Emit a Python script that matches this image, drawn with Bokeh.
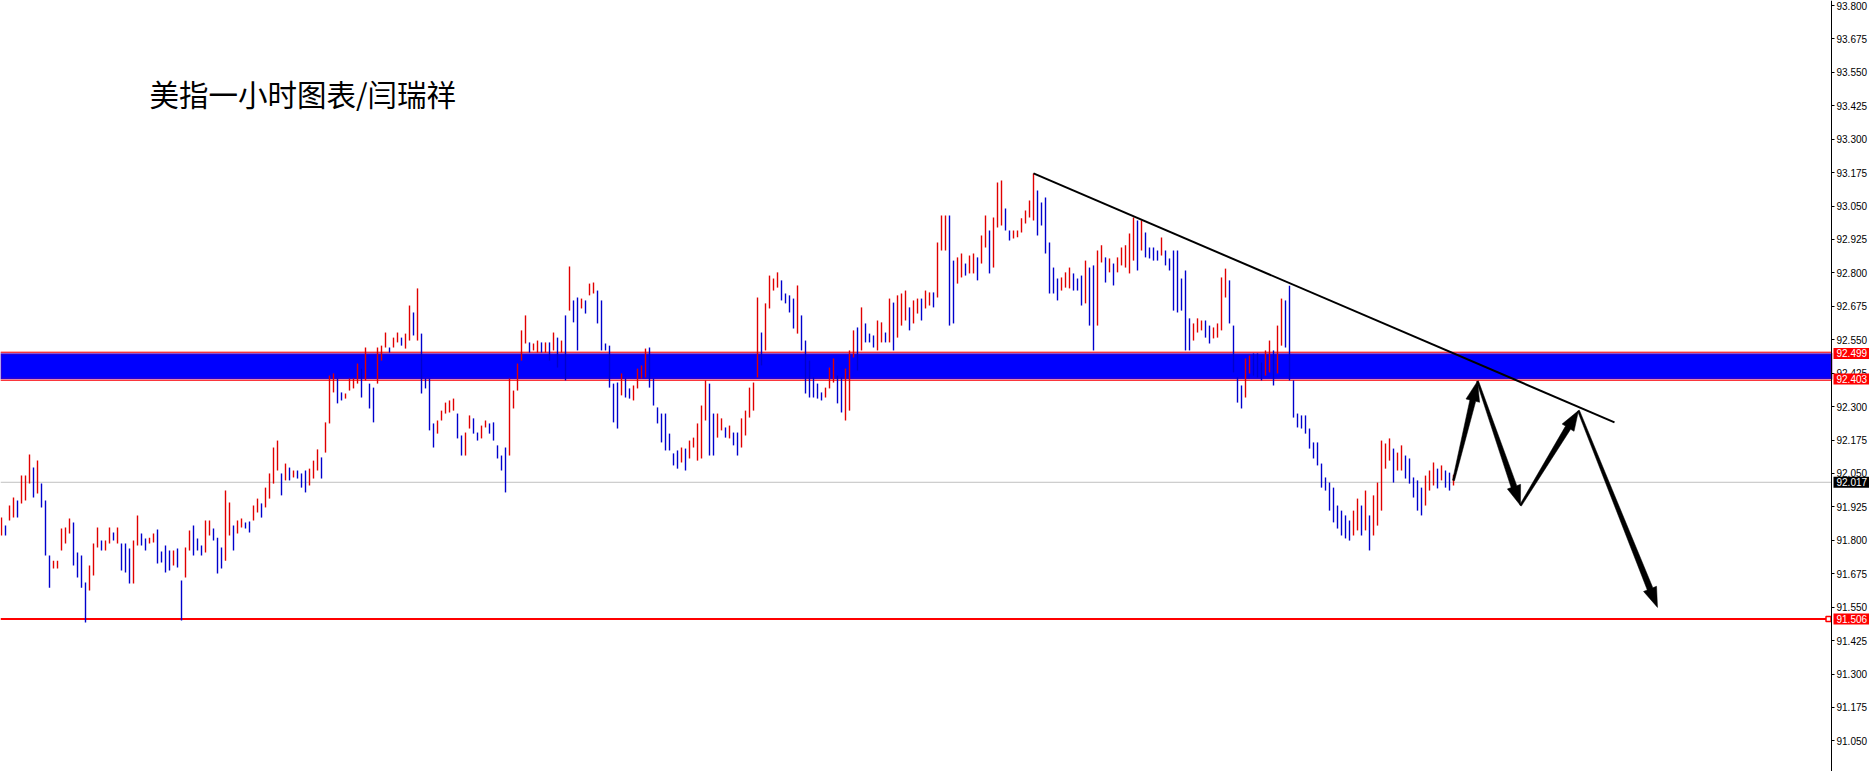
import math
from bokeh.plotting import figure
from bokeh.models import (ColumnDataSource, Range1d, FixedTicker, PrintfTickFormatter,
                          BoxAnnotation, Label)
from bokeh.core.properties import value
from bokeh.embed import file_html
from bokeh.resources import INLINE

# ---------------- data (hourly bars) ----------------
highs = [
    91.885, 91.855, 91.930, 91.960, 91.949, 92.042, 92.042, 92.121, 92.072, 92.098,
    92.012, 91.949, 91.743, 91.724, 91.724, 91.844, 91.848, 91.882, 91.867, 91.754,
    91.743, 91.642, 91.706, 91.788, 91.848, 91.799, 91.799, 91.848, 91.829, 91.848,
    91.788, 91.788, 91.769, 91.799, 91.893, 91.825, 91.807, 91.810, 91.825, 91.840,
    91.758, 91.781, 91.762, 91.762, 91.769, 91.650, 91.773, 91.837, 91.855, 91.807,
    91.781, 91.874, 91.874, 91.844, 91.810, 91.773, 91.986, 91.941, 91.855, 91.874,
    91.882, 91.867, 91.870, 91.930, 91.956, 91.938, 91.997, 92.050, 92.147, 92.173,
    92.050, 92.087, 92.072, 92.061, 92.061, 92.050, 92.061, 92.068, 92.098, 92.140,
    92.110, 92.241, 92.416, 92.424, 92.405, 92.353, 92.349, 92.405, 92.405, 92.461,
    92.442, 92.521, 92.386, 92.371, 92.521, 92.528, 92.577, 92.521, 92.558, 92.577,
    92.558, 92.573, 92.678, 92.652, 92.742, 92.573, 92.405, 92.405, 92.237, 92.248,
    92.285, 92.315, 92.323, 92.330, 92.274, 92.192, 92.203, 92.267, 92.256, 92.203,
    92.229, 92.248, 92.237, 92.241, 92.155, 92.117, 92.147, 92.405, 92.360, 92.461,
    92.585, 92.641, 92.540, 92.536, 92.547, 92.540, 92.540, 92.540, 92.577, 92.558,
    92.547, 92.641, 92.824, 92.697, 92.708, 92.704, 92.697, 92.760, 92.764, 92.734,
    92.697, 92.536, 92.528, 92.386, 92.390, 92.424, 92.405, 92.368, 92.379, 92.442,
    92.454, 92.517, 92.521, 92.405, 92.297, 92.274, 92.274, 92.199, 92.125, 92.136,
    92.147, 92.143, 92.173, 92.184, 92.237, 92.304, 92.398, 92.386, 92.274, 92.274,
    92.256, 92.222, 92.229, 92.203, 92.203, 92.256, 92.285, 92.371, 92.390, 92.708,
    92.577, 92.686, 92.790, 92.779, 92.802, 92.772, 92.723, 92.716, 92.704, 92.753,
    92.641, 92.547, 92.472, 92.409, 92.386, 92.353, 92.371, 92.446, 92.480, 92.416,
    92.409, 92.442, 92.510, 92.585, 92.596, 92.671, 92.611, 92.573, 92.566, 92.622,
    92.615, 92.577, 92.704, 92.689, 92.716, 92.723, 92.734, 92.671, 92.697, 92.704,
    92.704, 92.734, 92.727, 92.727, 92.914, 93.015, 93.015, 93.015, 92.846, 92.858,
    92.873, 92.835, 92.865, 92.873, 92.858, 92.940, 93.015, 92.959, 93.007, 93.138,
    93.146, 93.041, 92.959, 92.959, 92.959, 93.004, 93.033, 93.071, 93.172, 93.108,
    93.063, 93.082, 92.914, 92.820, 92.779, 92.783, 92.802, 92.820, 92.798, 92.779,
    92.790, 92.846, 92.820, 92.828, 92.884, 92.903, 92.858, 92.854, 92.835, 92.858,
    92.895, 92.903, 92.947, 93.007, 92.996, 92.996, 92.951, 92.895, 92.895, 92.884,
    92.932, 92.884, 92.854, 92.884, 92.884, 92.779, 92.809, 92.630, 92.611, 92.630,
    92.622, 92.622, 92.603, 92.596, 92.611, 92.783, 92.816, 92.772, 92.603, 92.409,
    92.379, 92.480, 92.491, 92.499, 92.499, 92.465, 92.510, 92.547, 92.510, 92.603,
    92.704, 92.697, 92.752, 92.398, 92.274, 92.267, 92.267, 92.218, 92.166, 92.166,
    92.087, 92.035, 92.016, 91.997, 91.930, 91.911, 91.893, 91.874, 91.911, 91.956,
    91.930, 91.986, 91.893, 91.968, 92.016, 92.173, 92.162, 92.181, 92.143, 92.128,
    92.155, 92.117, 92.106, 92.035, 92.024, 91.997, 92.042, 92.061, 92.091, 92.068,
    92.080, 92.061, 92.053, 92.045,
]
lows = [
    91.818, 91.818, 91.874, 91.885, 91.885, 91.938, 91.949, 92.012, 91.960, 91.975,
    91.923, 91.743, 91.623, 91.695, 91.695, 91.762, 91.788, 91.825, 91.706, 91.661,
    91.623, 91.493, 91.612, 91.668, 91.773, 91.762, 91.762, 91.788, 91.799, 91.788,
    91.687, 91.680, 91.638, 91.638, 91.781, 91.781, 91.762, 91.788, 91.792, 91.713,
    91.717, 91.680, 91.687, 91.706, 91.698, 91.500, 91.661, 91.762, 91.743, 91.762,
    91.743, 91.754, 91.818, 91.799, 91.676, 91.695, 91.724, 91.818, 91.762, 91.825,
    91.848, 91.844, 91.829, 91.874, 91.904, 91.885, 91.923, 91.956, 92.012, 92.061,
    91.968, 92.024, 92.024, 92.035, 92.031, 91.997, 91.979, 92.005, 92.031, 92.061,
    92.031, 92.128, 92.237, 92.353, 92.312, 92.323, 92.330, 92.360, 92.368, 92.386,
    92.334, 92.398, 92.293, 92.241, 92.386, 92.472, 92.521, 92.502, 92.521, 92.540,
    92.528, 92.517, 92.547, 92.566, 92.547, 92.349, 92.368, 92.211, 92.147, 92.199,
    92.248, 92.274, 92.278, 92.285, 92.181, 92.117, 92.117, 92.218, 92.199, 92.173,
    92.181, 92.222, 92.199, 92.173, 92.106, 92.061, 91.979, 92.117, 92.293, 92.360,
    92.472, 92.536, 92.502, 92.510, 92.502, 92.502, 92.502, 92.472, 92.510, 92.446,
    92.502, 92.398, 92.659, 92.615, 92.510, 92.667, 92.648, 92.716, 92.723, 92.611,
    92.510, 92.510, 92.371, 92.241, 92.218, 92.342, 92.334, 92.330, 92.323, 92.368,
    92.405, 92.409, 92.371, 92.304, 92.237, 92.166, 92.136, 92.136, 92.080, 92.068,
    92.091, 92.061, 92.106, 92.147, 92.098, 92.106, 92.248, 92.117, 92.117, 92.184,
    92.211, 92.184, 92.181, 92.155, 92.117, 92.147, 92.192, 92.259, 92.285, 92.409,
    92.454, 92.510, 92.667, 92.734, 92.745, 92.697, 92.686, 92.652, 92.592, 92.573,
    92.510, 92.349, 92.334, 92.334, 92.330, 92.323, 92.334, 92.368, 92.390, 92.312,
    92.278, 92.248, 92.285, 92.484, 92.435, 92.510, 92.540, 92.540, 92.521, 92.510,
    92.540, 92.540, 92.540, 92.510, 92.558, 92.603, 92.622, 92.585, 92.611, 92.648,
    92.622, 92.667, 92.678, 92.671, 92.708, 92.884, 92.884, 92.603, 92.611, 92.760,
    92.783, 92.790, 92.798, 92.798, 92.772, 92.835, 92.895, 92.798, 92.820, 92.970,
    92.977, 92.959, 92.921, 92.929, 92.933, 92.951, 92.985, 93.007, 92.996, 92.940,
    92.977, 92.873, 92.723, 92.723, 92.697, 92.734, 92.745, 92.742, 92.734, 92.734,
    92.678, 92.686, 92.603, 92.510, 92.603, 92.839, 92.764, 92.802, 92.753, 92.802,
    92.828, 92.820, 92.798, 92.846, 92.809, 92.884, 92.858, 92.854, 92.846, 92.846,
    92.865, 92.828, 92.809, 92.659, 92.652, 92.659, 92.510, 92.510, 92.547, 92.577,
    92.585, 92.558, 92.536, 92.555, 92.558, 92.585, 92.708, 92.611, 92.428, 92.315,
    92.293, 92.334, 92.424, 92.416, 92.409, 92.398, 92.416, 92.428, 92.379, 92.424,
    92.528, 92.521, 92.398, 92.259, 92.222, 92.218, 92.199, 92.143, 92.106, 92.080,
    91.997, 91.986, 91.911, 91.867, 91.844, 91.818, 91.807, 91.799, 91.818, 91.837,
    91.818, 91.837, 91.762, 91.818, 91.855, 91.911, 92.068, 92.098, 92.016, 92.061,
    92.061, 92.031, 92.012, 91.960, 91.911, 91.893, 91.930, 91.986, 92.005, 91.994,
    92.024, 91.997, 91.986, 92.005,
]

y_ticks = [93.800, 93.675, 93.550, 93.425, 93.300, 93.175, 93.050, 92.925, 92.800,
           92.675, 92.550, 92.425, 92.300, 92.175, 92.050, 91.925, 91.800, 91.675,
           91.550, 91.425, 91.300, 91.175, 91.050]

band_top = 92.499
band_bottom = 92.403
support_level = 91.506
last_price = 92.017

trend_x = [258, 403.25]
trend_p = [93.172, 92.241]

# projected path drawn with the arrows (bar index, price)
path_x = [363, 369, 379.75, 394.25, 414]
path_p = [92.024, 92.395, 91.930, 92.285, 91.549]

title_text = "美指一小时图表/闫瑞祥"
title_x = 37
title_p = 93.471

tag_values = [band_top, band_bottom, last_price, support_level]
tag_colors = ["#FF0000", "#FF0000", "#000000", "#FF0000"]

# ---------------- figure ----------------
FW, FH = 1869, 771
AXIS_PX = 1831                      # price scale position inside the frame
x_lo = -0.25
x_axis = 457.5                      # bar-index position of the price scale
x_hi = x_lo + (x_axis - x_lo) * FW / AXIS_PX
y_lo, y_hi = 90.9354, 93.8187

p = figure(frame_width=FW, frame_height=FH, x_range=Range1d(x_lo, x_hi),
           y_range=Range1d(y_lo, y_hi),
           output_backend="svg", toolbar_location=None,
           x_axis_location=None, y_axis_location="right", min_border=0)
p.outline_line_color = None
p.grid.visible = False
p.background_fill_color = "white"
p.border_fill_color = "white"

ax = p.yaxis[0]
ax.fixed_location = x_axis
ax.ticker = FixedTicker(ticks=y_ticks)
ax.formatter = PrintfTickFormatter(format="%.3f")
ax.axis_line_color = "black"
ax.axis_line_width = 1
ax.major_tick_line_color = "black"
ax.major_tick_out = 3
ax.major_tick_in = 0
ax.minor_tick_line_color = None
ax.major_label_text_font = "Liberation Sans"
ax.major_label_text_font_size = "10px"
ax.major_label_text_color = "black"
ax.major_label_standoff = 2
ax.axis_label_standoff = 0

sx = FW / (x_hi - x_lo)      # pixels per bar
sy = FH / (y_hi - y_lo)      # pixels per price unit

# band (background), ends at the price scale
p.add_layout(BoxAnnotation(top=band_top, bottom=band_bottom, right=x_axis,
                           fill_color="#0000FF", fill_alpha=1.0, line_color="#800080",
                           line_width=3, level="underlay"))
edge = 1.2 / sy
p.segment(x0=[x_lo, x_lo], x1=[x_axis, x_axis],
          y0=[band_top + edge, band_bottom - edge], y1=[band_top + edge, band_bottom - edge],
          line_color="#FF0000", line_width=1)
p.segment(x0=[x_lo], x1=[x_axis], y0=[last_price], y1=[last_price],
          line_color="#C0C0C0", line_width=1)
p.segment(x0=[x_lo], x1=[x_axis], y0=[support_level], y1=[support_level],
          line_color="#FF0000", line_width=2)

# bars
n = len(highs)
idx = list(range(n))
mids = [(h + l) / 2 for h, l in zip(highs, lows)]
colors = []
for i in range(n):
    up = True if i == 0 else mids[i] >= mids[i - 1]
    colors.append("#E00000" if up else "#0000CC")
src = ColumnDataSource(dict(x=idx, hi=highs, lo=lows, c=colors))
p.segment(x0="x", y0="lo", x1="x", y1="hi", line_color="c", line_width=1.4, source=src)

# trend line
p.line(trend_x, trend_p, line_color="black", line_width=2)

# arrows (tapered shafts with filled heads)
def arrow_poly(x0, y0, x1, y1, head=20.0, hw=7.0, w0=1.0, w1=3.0):
    X0, Y0, X1, Y1 = x0 * sx, y0 * sy, x1 * sx, y1 * sy
    dx, dy = X1 - X0, Y1 - Y0
    L = math.hypot(dx, dy)
    ux, uy = dx / L, dy / L
    nx, ny = -uy, ux
    bx, by = X1 - head * ux, Y1 - head * uy
    pts = [(X0 + nx * w0, Y0 + ny * w0), (bx + nx * w1, by + ny * w1),
           (bx + nx * hw, by + ny * hw), (X1, Y1), (bx - nx * hw, by - ny * hw),
           (bx - nx * w1, by - ny * w1), (X0 - nx * w0, Y0 - ny * w0)]
    return [q[0] / sx for q in pts], [q[1] / sy for q in pts]

axs, ays = [], []
for k in range(len(path_x) - 1):
    a, b = arrow_poly(path_x[k], path_p[k], path_x[k + 1], path_p[k + 1])
    axs.append(a)
    ays.append(b)
p.patches(axs, ays, fill_color="black", line_color="black", line_width=0.5)

# small marker of the support line on the scale
p.scatter([x_axis - 3.0 / sx], [support_level], marker="square", size=5,
          fill_color="white", line_color="#FF0000", line_width=1.5)

# title
p.add_layout(Label(x=title_x, y=title_p, text=title_text, text_font="Noto Sans CJK SC",
                   text_font_size="29.5px", text_color="black", text_baseline="middle",
                   text_align="left"))

# price tags on the scale (drawn above the tick labels)
tag_src = ColumnDataSource(dict(
    xc=[x_axis + 20.0 / sx] * len(tag_values),
    xt=[x_axis + 5.0 / sx] * len(tag_values),
    y=tag_values, c=tag_colors, t=["%.3f" % v for v in tag_values]))
p.rect(x="xc", y="y", width=36, height=11, width_units="screen", height_units="screen",
       fill_color="c", line_color=None, source=tag_src, level="overlay")
p.text(x="xt", y="y", text="t", text_color="white", text_font=value("Liberation Sans"),
       text_font_size="10px", text_baseline="middle", text_align="left",
       source=tag_src, level="overlay")

open("out.html", "w").write(file_html(p, INLINE))
